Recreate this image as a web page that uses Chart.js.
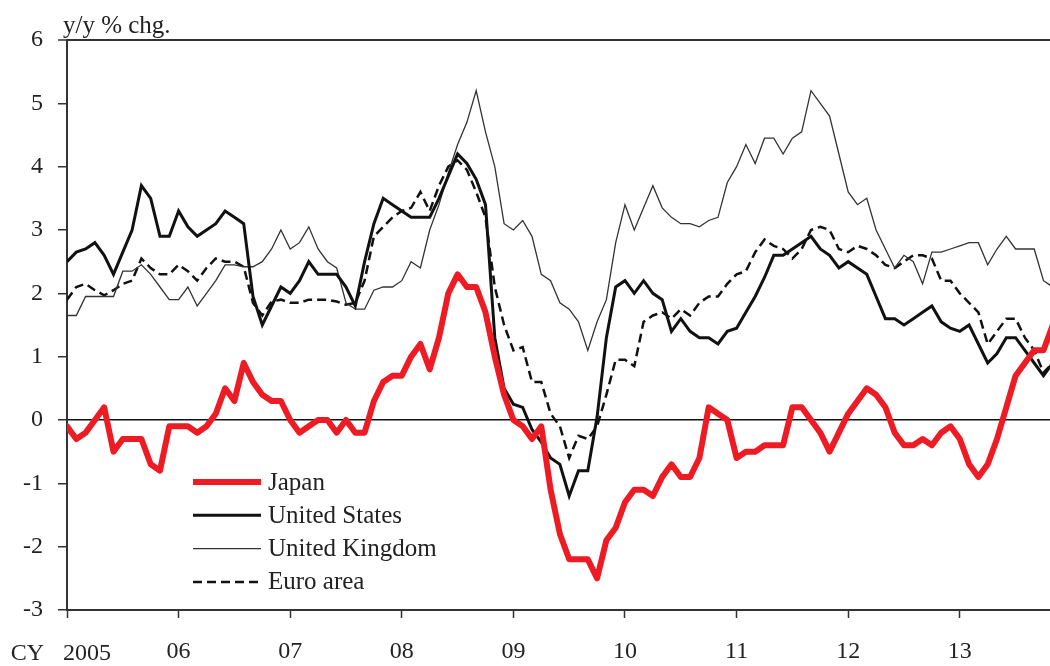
<!DOCTYPE html>
<html>
<head>
<meta charset="utf-8">
<script src="https://cdn.jsdelivr.net/npm/chart.js@4.4.0/dist/chart.umd.min.js"></script>
<style>
html, body { margin: 0; padding: 0; background: #fff; }
#wrap { width: 1050px; height: 666px; position: relative; }
</style>
</head>
<body>
<div id="wrap"><canvas id="cpiChart"></canvas></div>
<script>
// monthly y/y % change, Jan 2005 .. Nov 2013
var japan = [
  -0.1, -0.3, -0.2, 0.0, 0.2, -0.5, -0.3, -0.3, -0.3, -0.7, -0.8, -0.1,
  -0.1, -0.1, -0.2, -0.1, 0.1, 0.5, 0.3, 0.9, 0.6, 0.4, 0.3, 0.3,
  0.0, -0.2, -0.1, 0.0, 0.0, -0.2, 0.0, -0.2, -0.2, 0.3, 0.6, 0.7,
  0.7, 1.0, 1.2, 0.8, 1.3, 2.0, 2.3, 2.1, 2.1, 1.7, 1.0, 0.4,
  0.0, -0.1, -0.3, -0.1, -1.1, -1.8, -2.2, -2.2, -2.2, -2.5, -1.9, -1.7,
  -1.3, -1.1, -1.1, -1.2, -0.9, -0.7, -0.9, -0.9, -0.6, 0.2, 0.1, 0.0,
  -0.6, -0.5, -0.5, -0.4, -0.4, -0.4, 0.2, 0.2, 0.0, -0.2, -0.5, -0.2,
  0.1, 0.3, 0.5, 0.4, 0.2, -0.2, -0.4, -0.4, -0.3, -0.4, -0.2, -0.1,
  -0.3, -0.7, -0.9, -0.7, -0.3, 0.2, 0.7, 0.9, 1.1, 1.1, 1.5
];
var unitedStates = [
  2.5, 2.65, 2.7, 2.8, 2.6, 2.3, 2.65, 3.0, 3.7, 3.5, 2.9, 2.9,
  3.3, 3.05, 2.9, 3.0, 3.1, 3.3, 3.2, 3.1, 1.95, 1.5, 1.8, 2.1,
  2.0, 2.2, 2.5, 2.3, 2.3, 2.3, 2.1, 1.8, 2.5, 3.1, 3.5, 3.4,
  3.3, 3.2, 3.2, 3.2, 3.5, 3.85, 4.2, 4.05, 3.8, 3.4, 1.3, 0.5,
  0.25, 0.2, -0.15, -0.35, -0.6, -0.7, -1.2, -0.8, -0.8, 0.05, 1.3, 2.1,
  2.2, 2.0, 2.2, 2.0, 1.9, 1.4, 1.6, 1.4, 1.3, 1.3, 1.2, 1.4,
  1.45, 1.7, 1.95, 2.25, 2.6, 2.6, 2.7, 2.8, 2.9, 2.7, 2.6, 2.4,
  2.5, 2.4, 2.3, 1.95, 1.6, 1.6, 1.5, 1.6, 1.7, 1.8, 1.55, 1.45,
  1.4, 1.5, 1.2, 0.9, 1.05, 1.3, 1.3, 1.1, 0.9, 0.7, 0.9
];
var unitedKingdom = [
  1.65, 1.65, 1.95, 1.95, 1.95, 1.95, 2.35, 2.35, 2.45, 2.3, 2.1, 1.9,
  1.9, 2.1, 1.8, 2.0, 2.2, 2.45, 2.45, 2.42, 2.42, 2.5, 2.7, 3.0,
  2.7, 2.8, 3.05, 2.7, 2.5, 2.4, 1.85, 1.75, 1.75, 2.05, 2.1, 2.1,
  2.2, 2.5, 2.4, 3.0, 3.4, 3.9, 4.35, 4.7, 5.2, 4.55, 4.0, 3.1,
  3.0, 3.15, 2.9, 2.3, 2.2, 1.85, 1.75, 1.55, 1.1, 1.55, 1.9, 2.8,
  3.4, 3.0, 3.35, 3.7, 3.35, 3.2, 3.1, 3.1, 3.05, 3.15, 3.2, 3.75,
  4.0, 4.35, 4.05, 4.45, 4.45, 4.2, 4.45, 4.55, 5.2, 5.0, 4.8, 4.2,
  3.6, 3.4, 3.5, 3.0, 2.7, 2.4, 2.6, 2.5, 2.15, 2.65, 2.65, 2.7,
  2.75, 2.8, 2.8, 2.45, 2.7, 2.9, 2.7, 2.7, 2.7, 2.2, 2.1
];
var euroArea = [
  1.9, 2.1, 2.15, 2.05, 1.97, 2.05, 2.15, 2.2, 2.55, 2.4, 2.3, 2.3,
  2.45, 2.35, 2.2, 2.4, 2.55, 2.5, 2.5, 2.42, 1.85, 1.65, 1.87, 1.9,
  1.85, 1.85, 1.9, 1.9, 1.9, 1.87, 1.82, 1.85, 2.2, 2.9, 3.05, 3.2,
  3.3, 3.35, 3.6, 3.3, 3.7, 4.0, 4.1, 3.95, 3.6, 3.2, 2.1, 1.5,
  1.1, 1.15, 0.6, 0.6, 0.1, -0.1, -0.6, -0.25, -0.3, -0.1, 0.4, 0.95,
  0.95, 0.85, 1.55, 1.65, 1.7, 1.6, 1.75, 1.65, 1.85, 1.95, 1.95, 2.15,
  2.3, 2.35, 2.65, 2.85, 2.75, 2.7, 2.55, 2.7, 3.0, 3.05, 3.0, 2.7,
  2.65, 2.75, 2.7, 2.6, 2.45, 2.4, 2.5, 2.6, 2.6, 2.55, 2.2, 2.2,
  2.0, 1.85, 1.7, 1.2, 1.4, 1.6, 1.6, 1.3, 1.1, 0.75, 0.9
];
var yearLabels = ['2005', '06', '07', '08', '09', '10', '11', '12', '13'];
var seriesNames = ['Japan', 'United States', 'United Kingdom', 'Euro area'];

var serif = "'Liberation Serif', 'Times New Roman', serif";

function toPoints(arr) {
  return arr.map(function (v, i) { return { x: i, y: v }; });
}

var extras = {
  id: 'extras',
  afterDraw: function (chart) {
    var ctx = chart.ctx;
    var area = chart.chartArea;
    var x0 = chart.scales.x.getPixelForValue(0);
    ctx.save();
    ctx.fillStyle = '#222';
    ctx.font = '25px ' + serif;
    ctx.textBaseline = 'alphabetic';
    ctx.textAlign = 'left';
    ctx.fillText('y/y % chg.', area.left - 4, 33);

    // first year label and "CY"
    ctx.font = '24px ' + serif;
    ctx.fillText('2005', x0 - 4, 660);
    ctx.textAlign = 'right';
    ctx.fillText('CY', x0 - 23, 660);

    // legend
    ctx.textAlign = 'left';
    ctx.textBaseline = 'middle';
    ctx.font = '25px ' + serif;
    chart.data.datasets.forEach(function (ds, i) {
      var y = 482 + i * 33.3;
      ctx.beginPath();
      ctx.strokeStyle = ds.borderColor;
      ctx.lineWidth = ds.borderWidth;
      ctx.setLineDash(ds.borderDash || []);
      ctx.moveTo(193, y);
      ctx.lineTo(261, y);
      ctx.stroke();
      ctx.setLineDash([]);
      ctx.fillText(ds.label, 268, y + 1);
    });
    ctx.restore();
  }
};

var ctx = document.getElementById('cpiChart').getContext('2d');
var cpiChart = new Chart(ctx, {
  type: 'line',
  data: {
    datasets: [{
      label: seriesNames[0],
      data: toPoints(japan),
      borderColor: '#ed1c24',
      borderWidth: 6,
      borderJoinStyle: 'round',
      borderCapStyle: 'round'
    }, {
      label: seriesNames[1],
      data: toPoints(unitedStates),
      borderColor: '#111111',
      borderWidth: 3
    }, {
      label: seriesNames[2],
      data: toPoints(unitedKingdom),
      borderColor: '#333333',
      borderWidth: 1.3
    }, {
      label: seriesNames[3],
      data: toPoints(euroArea),
      borderColor: '#111111',
      borderWidth: 2.5,
      borderDash: [9, 5]
    }]
  },
  options: {
    responsive: true,
    maintainAspectRatio: false,
    animation: false,
    layout: { padding: { top: 40, right: 0, bottom: 0, left: 0 } },
    elements: { point: { radius: 0 }, line: { tension: 0 } },
    plugins: {
      legend: { display: false },
      tooltip: { enabled: false }
    },
    scales: {
      x: {
        type: 'linear',
        min: 0,
        max: 105.7,
        afterFit: function (s) { s.height = 56; },
        border: { color: '#333', width: 2 },
        grid: { drawOnChartArea: false, tickLength: 8, tickColor: '#333', tickWidth: 1.5 },
        ticks: {
          stepSize: 12,
          includeBounds: false,
          autoSkip: false,
          maxRotation: 0,
          padding: 19,
          color: '#222',
          font: { family: serif, size: 24 },
          callback: function (v) { return v === 0 ? '' : yearLabels[v / 12]; }
        }
      },
      y: {
        min: -3,
        max: 6,
        afterFit: function (s) { s.width = 67; },
        border: { color: '#333', width: 2 },
        grid: {
          color: function (c) {
            if (c.tick.value === 0) return '#111';
            if (c.tick.value === 6) return '#333';
            return 'rgba(0,0,0,0)';
          },
          lineWidth: function (c) { return c.tick.value === 6 ? 2 : 1.5; },
          tickLength: 9,
          tickColor: '#333',
          tickWidth: 1.5
        },
        ticks: {
          stepSize: 1,
          padding: 15,
          color: '#222',
          font: { family: serif, size: 24 }
        }
      }
    }
  },
  plugins: [extras]
});
</script>
</body>
</html>
